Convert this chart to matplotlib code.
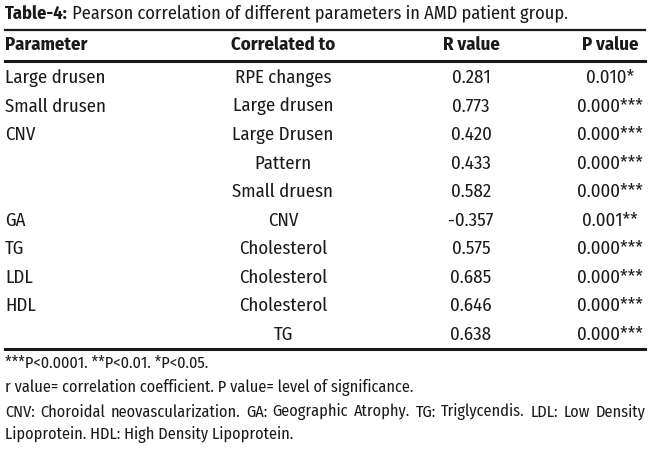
import matplotlib
matplotlib.use("Agg")
import matplotlib.pyplot as plt

# table content
parameters = ["Large drusen", "Small drusen", "CNV", "", "", "GA", "TG", "LDL", "HDL", ""]
correlated = ["RPE changes", "Large drusen", "Large Drusen", "Pattern", "Small druesn",
              "CNV", "Cholesterol", "Cholesterol", "Cholesterol", "TG"]
r_values = ["0.281", "0.773", "0.420", "0.433", "0.582", "-0.357", "0.575", "0.685", "0.646", "0.638"]
p_values = ["0.010*", "0.000***", "0.000***", "0.000***", "0.000***", "0.001**",
            "0.000***", "0.000***", "0.000***", "0.000***"]
headers = ["Parameter", "Correlated to", "R value", "P value"]
title_bold = "Table-4:"
title_rest = " Pearson correlation of different parameters in AMD patient group."
footnotes = [
    "***P<0.0001. **P<0.01. *P<0.05.",
    "r value= correlation coefficient. P value= level of significance.",
    "CNV: Choroidal neovascularization. GA: Geographic Atrophy. TG: Triglycendis. LDL: Low Density",
    "Lipoprotein. HDL: High Density Lipoprotein.",
]

FONT = ["Fira Sans Condensed", "DejaVu Sans"]
ink = "#1a1a1a"

fig = plt.figure(figsize=(6.5, 4.64), dpi=100)
ax = fig.add_axes([0, 0, 1, 1])
ax.set_xlim(0, 650)
ax.set_ylim(464, 0)
ax.axis("off")

# title: bold label, then the rest right after it
tb = ax.text(5, 14, title_bold, fontsize=13.2, fontweight="bold", family=FONT,
             color=ink, va="center", ha="left")
fig.canvas.draw()
r = fig.canvas.get_renderer()
bb = tb.get_window_extent(r)
x_after = ax.transData.inverted().transform((bb.x1, 0))[0]
ax.text(x_after, 14, title_rest, fontsize=13.2, family=FONT, color=ink, va="center", ha="left")

# rules
ax.plot([5, 645], [31, 31], color=ink, lw=1.6)
ax.plot([5, 645], [62, 62], color=ink, lw=2.2)
ax.plot([5, 645], [350, 350], color=ink, lw=2.2)

# header
col_x = [5, 283, 471, 610]
col_ha = ["left", "center", "center", "center"]
for h, x, ha in zip(headers, col_x, col_ha):
    ax.text(x, 45, h, fontsize=13.5, fontweight="bold", family=FONT, color=ink,
            va="center", ha=ha)

# body rows
y0, dy = 78, 28.5
for i, row in enumerate(zip(parameters, correlated, r_values, p_values)):
    y = y0 + i * dy
    for val, x, ha in zip(row, col_x, col_ha):
        if val:
            ax.text(x, y, val, fontsize=13.5, family=FONT, color=ink, va="center", ha=ha)

# footnotes (third line is justified to the full width)
fn_y = [363, 388, 412, 435]
for k, (line, y) in enumerate(zip(footnotes, fn_y)):
    if k == 2:
        words = line.split(" ")
        ts = [ax.text(0, y, w, fontsize=11.7, family=FONT, color=ink, va="center", ha="left")
              for w in words]
        fig.canvas.draw()
        inv = ax.transData.inverted()
        widths = []
        for t in ts:
            e = t.get_window_extent(r)
            widths.append(inv.transform((e.x1, 0))[0] - inv.transform((e.x0, 0))[0])
        gap = (645 - 5 - sum(widths)) / (len(words) - 1)
        x = 5
        for t, w in zip(ts, widths):
            t.set_x(x)
            x += w + gap
    else:
        ax.text(5, y, line, fontsize=11.7, family=FONT, color=ink, va="center", ha="left")

fig.savefig("out.png", dpi=100, facecolor="white")
